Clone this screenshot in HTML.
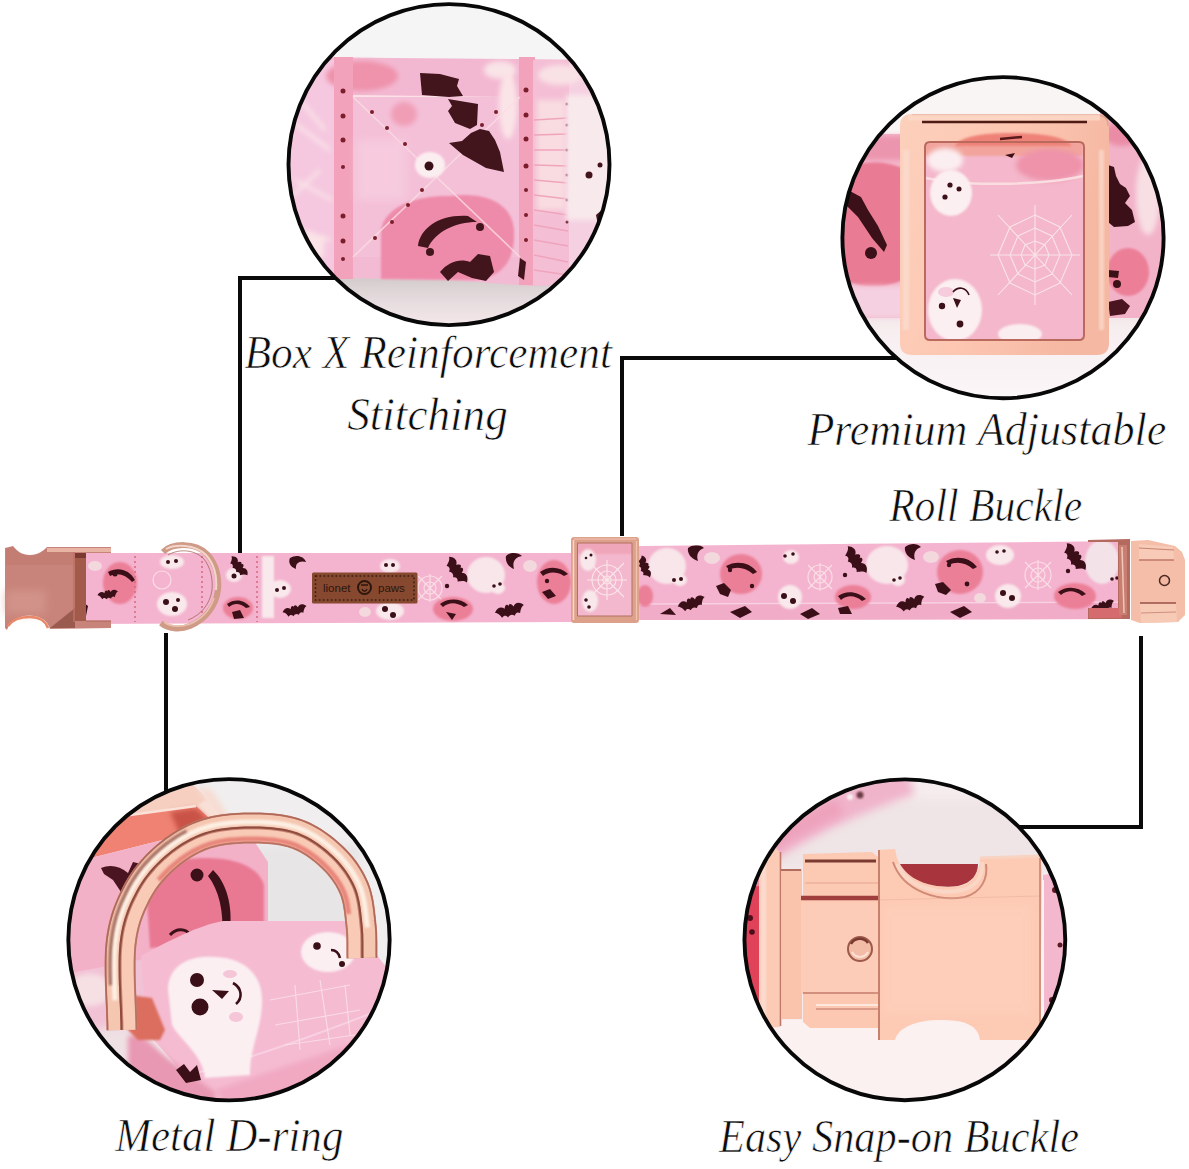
<!DOCTYPE html>
<html><head><meta charset="utf-8"><title>Collar</title>
<style>
html,body{margin:0;padding:0;background:#fff;width:1189px;height:1169px;overflow:hidden}
svg{display:block}
.t{font-family:"Liberation Serif",serif;font-style:italic;fill:#0c0c0c;font-size:46px;stroke:#fff;stroke-width:0.7px}
</style></head><body>
<svg width="1189" height="1169" viewBox="0 0 1189 1169">
<defs>
<linearGradient id="gShadow1" x1="0" y1="0" x2="0" y2="1"><stop offset="0" stop-color="#d2caca"/><stop offset="0.35" stop-color="#e2d8da"/><stop offset="1" stop-color="#f8eaee"/></linearGradient>
<filter id="blur1" x="-20%" y="-20%" width="140%" height="140%"><feGaussianBlur stdDeviation="1"/></filter>
<filter id="blur2" x="-30%" y="-30%" width="160%" height="160%"><feGaussianBlur stdDeviation="2.5"/></filter>
<filter id="blur4" x="-30%" y="-30%" width="160%" height="160%"><feGaussianBlur stdDeviation="4"/></filter>
<linearGradient id="gBot2" x1="0" y1="0" x2="0" y2="1"><stop offset="0" stop-color="#ecdfe2"/><stop offset="0.3" stop-color="#f7eef0"/><stop offset="1" stop-color="#fbf6f7"/></linearGradient>
<linearGradient id="gGold2" x1="0" y1="0" x2="1" y2="0.3"><stop offset="0" stop-color="#fcd0bc"/><stop offset="0.5" stop-color="#fdc7b2"/><stop offset="1" stop-color="#f5b8a2"/></linearGradient>
<path id="bat" d="M-13,-2 C-10,-6 -6,-6 -4,-3 C-3,-6 -1,-7 0,-4.5 C1,-7 3,-6 4,-3 C6,-6 10,-6 13,-2 C10,-1 9,2 8,4 C6,2 4,3 3,5 C1,3 -1,3 -3,5 C-4,3 -6,2 -8,4 C-9,2 -10,-1 -13,-2 Z"/>
<clipPath id="c1"><circle cx="449" cy="164.6" r="160.5"/></clipPath>
<clipPath id="c2"><circle cx="1003" cy="237.7" r="160.6"/></clipPath>
<clipPath id="c3"><circle cx="229" cy="939.75" r="160.65"/></clipPath>
<clipPath id="c4"><circle cx="904.85" cy="939.8" r="160.4"/></clipPath>
</defs>
<rect width="1189" height="1169" fill="#fff"/>

<!-- connector lines -->
<g stroke="#0a0a0a" stroke-width="4" fill="none">
<polyline points="240,556 240,278 345,278"/>
<polyline points="622,536 622,358 905,358"/>
<line x1="166" y1="633" x2="166" y2="795"/>
<polyline points="1141,636 1141,827 1005,827"/>
</g>

<!-- circle 1 -->
<g clip-path="url(#c1)">
<rect x="280" y="0" width="340" height="330" fill="#f6f5f5"/>
<rect x="280" y="276" width="340" height="54" fill="url(#gShadow1)"/>
<path d="M280,57 L620,60 L620,284 L530,286 L450,280 L280,277 Z" fill="#f3bad3"/>
<!-- left light area -->
<rect x="280" y="60" width="55" height="218" fill="#f5c8df"/>
<g filter="url(#blur2)">
<path d="M290,120 L330,150 M295,180 L332,200 M300,230 L330,240 M288,200 L320,170 M300,100 L325,130" stroke="#fbe6ea" stroke-width="3" fill="none"/>
<rect x="284" y="235" width="40" height="22" fill="#fbe3e7"/>
</g>
<!-- top strip -->
<rect x="335" y="59" width="185" height="37" fill="#f3b8d1"/>
<ellipse cx="362" cy="76" rx="36" ry="15" fill="#ef92ab" filter="url(#blur2)"/>
<ellipse cx="500" cy="70" rx="16" ry="9" fill="#f9e4e8" filter="url(#blur2)"/>
<line x1="353" y1="96" x2="520" y2="98" stroke="#fbe2e6" stroke-width="2"/>
<!-- inner box -->
<rect x="353" y="97" width="167" height="160" fill="#f4c0d8"/>
<ellipse cx="404" cy="114" rx="13" ry="12" fill="#f09eb6" filter="url(#blur2)"/>
<ellipse cx="508" cy="105" rx="9" ry="34" fill="#fbe4e8" filter="url(#blur2)"/>
<!-- pumpkin blob -->
<path d="M381,230 C385,205 420,195 450,196 C480,192 512,200 514,230 C516,262 500,280 470,280 L381,279 Z" fill="#ee8baa" filter="url(#blur1)"/>
<!-- left stitch column -->
<rect x="334" y="57" width="19" height="222" fill="#f2a3bb"/>
<!-- right stitch column -->
<rect x="519" y="57" width="16" height="228" fill="#f2a3bb"/>
<!-- fringe -->
<rect x="533" y="60" width="36" height="225" fill="#f4bfd5"/>
<rect x="537" y="100" width="28" height="110" fill="#f9dce1" filter="url(#blur2)"/>
<g stroke="#f0a4bc" stroke-width="1.6">
<line x1="534" y1="120" x2="568" y2="118"/><line x1="534" y1="135" x2="568" y2="134"/><line x1="534" y1="150" x2="568" y2="150"/>
<line x1="534" y1="165" x2="568" y2="166"/><line x1="534" y1="180" x2="568" y2="183"/><line x1="534" y1="195" x2="568" y2="199"/>
<line x1="534" y1="210" x2="568" y2="215"/><line x1="534" y1="225" x2="568" y2="231"/><line x1="534" y1="240" x2="568" y2="246"/>
<line x1="534" y1="255" x2="568" y2="262"/><line x1="534" y1="270" x2="568" y2="275"/>
</g>
<g fill="#6a2030"><circle cx="567" cy="104" r="1.5"/><circle cx="567" cy="125" r="1.5"/><circle cx="567" cy="150" r="1.5"/><circle cx="567" cy="175" r="1.5"/><circle cx="567" cy="200" r="1.5"/><circle cx="567" cy="222" r="1.5"/></g>
<!-- right light area -->
<path d="M569,60 L620,62 L620,284 L569,284 Z" fill="#f5d0e1"/>
<path d="M566,95 L612,95 L612,220 L566,220 Z" fill="#f8e9ec" filter="url(#blur2)"/>
<ellipse cx="560" cy="75" rx="22" ry="10" fill="#f9e2e6" filter="url(#blur2)"/>
<!-- X stitches -->
<g stroke="#fadde2" stroke-width="1.6" fill="none" opacity="0.8">
<path d="M353,97 L520,257"/><path d="M520,97 L353,257"/>
</g>
<rect x="356" y="140" width="50" height="60" fill="#f8d2e2" opacity="0.6" filter="url(#blur4)"/>
<g fill="#7a1e2c">
<circle cx="343" cy="91" r="2.5"/><circle cx="343" cy="116" r="2.5"/><circle cx="343" cy="140" r="2.5"/><circle cx="343" cy="167" r="2"/><circle cx="343" cy="216" r="2.5"/><circle cx="343" cy="241" r="2.5"/><circle cx="343" cy="259" r="2"/>
<circle cx="526" cy="90" r="2.5"/><circle cx="526" cy="115" r="2.5"/><circle cx="526" cy="139" r="2.5"/><circle cx="526" cy="166" r="2.5"/><circle cx="526" cy="190" r="2"/><circle cx="526" cy="215" r="2"/><circle cx="526" cy="240" r="2"/>
<circle cx="372" cy="112" r="2"/><circle cx="387" cy="128" r="2"/><circle cx="405" cy="144" r="2"/><circle cx="496" cy="112" r="2"/><circle cx="482" cy="125" r="2"/>
<circle cx="422" cy="190" r="2"/><circle cx="408" cy="205" r="2"/><circle cx="392" cy="222" r="2"/><circle cx="375" cy="238" r="2"/>
</g>
<!-- ghost -->
<ellipse cx="430" cy="165" rx="15" ry="13" fill="#fbeef0" filter="url(#blur1)"/>
<circle cx="429" cy="166" r="4.5" fill="#3a1018"/>
<!-- bat -->
<g fill="#42141c">
<path d="M420,73 L440,74 L459,79 L457,86 L463,96 L449,97 L422,95 Z"/>
<path d="M448,99 L478,104 L477,125 L470,129 L455,123 L448,111 L452,106 Z"/>
<path d="M471,133 L480,129 L489,131 L495,140 L500,152 L504,172 L486,168 L463,155 L449,143 L462,141 Z"/>
<!-- crescent -->
<path d="M418,246 C420,228 440,214 468,216 L477,222 C455,222 435,232 428,248 Z"/>
<circle cx="430" cy="252" r="4"/>
<circle cx="480" cy="227" r="4"/>
<!-- bottom dark -->
<path d="M440,272 C448,262 460,258 470,262 L478,254 L490,256 L494,272 L486,281 L472,278 L458,272 L448,281 Z"/>
<path d="M520,258 L526,262 L524,280 L518,276 Z"/>
<circle cx="589" cy="175" r="3.5"/><circle cx="600" cy="165" r="2.5"/>
<path d="M596,215 L604,208 L610,230 L600,235 Z"/>
</g>
</g>
<circle cx="449" cy="164.6" r="160.5" fill="none" stroke="#080808" stroke-width="3.9"/>

<!-- circle 2 -->
<g clip-path="url(#c2)">
<rect x="840" y="70" width="330" height="330" fill="#f9f5f5"/>
<rect x="840" y="300" width="330" height="100" fill="url(#gBot2)"/>
<!-- left band -->
<path d="M840,134 L905,134 L905,318 L840,318 Z" fill="#f3b6cb"/>
<path d="M840,136 L905,136 L905,160 L840,160 Z" fill="#ec95ae" filter="url(#blur2)"/>
<path d="M842,172 C855,160 885,160 902,168 L902,280 C885,290 855,288 842,278 Z" fill="#e97b94" filter="url(#blur1)"/>
<path d="M848,190 L861,197 L868,210 L878,226 L887,245 L884,252 L872,238 L858,217 L846,205 Z" fill="#3c1018"/>
<circle cx="871" cy="253" r="6" fill="#3c1018"/>
<rect x="840" y="286" width="65" height="32" fill="#f5d0e0" filter="url(#blur2)"/>
<!-- right band -->
<path d="M1100,106 L1170,104 L1170,318 L1100,318 Z" fill="#f2b3c9"/>
<ellipse cx="1122" cy="134" rx="18" ry="12" fill="#ea8ca6" filter="url(#blur2)"/>
<path d="M1108,165 L1114,167 L1116,176 L1120,184 L1126,188 L1130,196 L1125,203 L1132,210 L1135,222 L1128,226 L1114,227 L1108,222 Z" fill="#3c1018"/>
<ellipse cx="1128" cy="272" rx="21" ry="24" fill="#ec7f97" filter="url(#blur1)"/>
<circle cx="1117" cy="284" r="4" fill="#3c1018"/>
<path d="M1108,270 L1119,271 L1118,278 L1108,277 Z" fill="#3c1018"/>
<path d="M1108,302 L1122,299 L1130,306 L1125,314 L1110,316 Z" fill="#4a1520"/>
<ellipse cx="1148" cy="195" rx="12" ry="40" fill="#f8dfe4" filter="url(#blur2)"/>
<!-- roll inside frame -->
<rect x="922" y="140" width="164" height="202" fill="#f4b7cb"/>
<rect x="925" y="142" width="158" height="14" fill="#f2a49c" filter="url(#blur1)"/>
<ellipse cx="945" cy="160" rx="18" ry="12" fill="#fbeef1" filter="url(#blur2)"/>
<ellipse cx="1050" cy="165" rx="34" ry="16" fill="#ee93aa" filter="url(#blur2)"/>
<path d="M1005,155 L1015,153 L1012,158 Z" fill="#3c1018"/>
<path d="M926,178 C960,186 1040,186 1083,176" stroke="#f9dde0" stroke-width="2.5" fill="none"/>
<ellipse cx="951" cy="193" rx="21" ry="23" fill="#fbeff1" filter="url(#blur1)"/>
<circle cx="950" cy="185" r="2.6" fill="#3c1018"/><circle cx="959" cy="189" r="2.5" fill="#3c1018"/><circle cx="945" cy="197" r="2.6" fill="#3c1018"/>
<ellipse cx="955" cy="310" rx="27" ry="31" fill="#fbeff1" filter="url(#blur1)"/>
<ellipse cx="946" cy="292" rx="8" ry="5" fill="#f6cbdc"/>
<circle cx="942" cy="306" r="3.2" fill="#3c1018"/><path d="M953,298 L961,300 L957,308 Z" fill="#3c1018"/><circle cx="960" cy="324" r="3.4" fill="#3c1018"/>
<path d="M953,292 C958,286 966,287 969,295" stroke="#3c1018" stroke-width="1.6" fill="none"/>
<ellipse cx="1020" cy="334" rx="22" ry="10" fill="#fbeef0" filter="url(#blur1)"/>
<g stroke="#fae6ea" stroke-width="1.1" fill="none" opacity="0.95">
<path d="M1035,205 L1035,305 M990,255 L1080,255 M998,215 L1072,295 M1072,215 L998,295"/>
<path d="M1035,215 L1060,227 L1072,255 L1060,283 L1035,295 L1010,283 L998,255 L1010,227 Z"/>
<path d="M1035,228 L1052,236 L1060,255 L1052,274 L1035,282 L1018,274 L1010,255 L1018,236 Z"/>
<path d="M1035,241 L1045,245 L1049,255 L1045,265 L1035,269 L1025,265 L1021,255 L1025,245 Z"/>
</g>
<!-- frame -->
<path fill-rule="evenodd" fill="url(#gGold2)" d="M912,114 L1097,114 Q1109,114 1109,126 L1109,343 Q1109,355 1097,355 L912,355 Q900,355 900,343 L900,126 Q900,114 912,114 Z M930,142 L1079,142 Q1084,142 1084,147 L1084,335 Q1084,340 1079,340 L930,340 Q925,340 925,335 L925,147 Q925,142 930,142 Z"/>
<path d="M912,115 L1097,115 Q1108,115 1108,126" stroke="#e0a494" stroke-width="1.5" fill="none"/>
<rect x="908" y="114.5" width="192" height="6" fill="#fbd8c8" opacity="0.8"/>
<path d="M922,122 L1087,122" stroke="#4e1c14" stroke-width="2.6"/>
<path d="M955,146 C960,136 985,133 1010,133 C1040,133 1065,136 1072,146 Z" fill="#ef8278" filter="url(#blur1)"/>
<path d="M1000,139 L1022,137" stroke="#5a1a1a" stroke-width="2.5"/>
<path d="M930,142 L1079,142 Q1084,142 1084,147 L1084,335 Q1084,340 1079,340 L930,340 Q925,340 925,335 L925,147 Q925,142 930,142 Z" fill="none" stroke="#b96a5c" stroke-width="2"/>
<rect x="903" y="150" width="6" height="180" fill="#fbd9ca" filter="url(#blur1)"/>
<rect x="1099" y="150" width="5" height="180" fill="#f9d2c2" filter="url(#blur1)"/>
</g>
<circle cx="1003" cy="237.7" r="160.6" fill="none" stroke="#080808" stroke-width="3.9"/>

<!-- circle 3 -->
<g clip-path="url(#c3)">
<rect x="60" y="770" width="340" height="340" fill="#f0eeee"/>
<rect x="240" y="845" width="120" height="90" fill="#e7e5e5" filter="url(#blur4)"/>
<!-- slider top-left -->
<path d="M60,800 L188,780 L204,795 L222,826 L196,806 L130,815 L60,842 Z" fill="#f6cfc0"/>
<path d="M196,786 L212,790 L232,822 L222,826 Z" fill="#f7ddd3" filter="url(#blur2)"/>
<path d="M196,806 L206,800 L226,824 L220,828 Z" fill="#f9e0d6" filter="url(#blur1)"/>
<path d="M60,842 L130,815 L196,806 L218,826 L95,857 L60,866 Z" fill="#ef8272"/>
<path d="M170,812 L196,808 L214,826 L180,835 Z" fill="#c95246" filter="url(#blur2)"/>
<path d="M130,815 L196,806" stroke="#fbe2d8" stroke-width="2.5"/>
<!-- upper pink fabric band (left part) -->
<path d="M60,866 L95,857 L218,826 L250,835 L268,862 L268,935 L150,960 L60,975 Z" fill="#f3b1c8"/>
<!-- pumpkin -->
<path d="M146,885 C150,866 178,858 205,858 C235,858 258,866 264,885 L264,935 C240,942 190,945 150,948 Z" fill="#e97993" filter="url(#blur1)"/>
<circle cx="197" cy="875" r="6.5" fill="#3c1018"/>
<path d="M213,870 C226,882 233,905 230,930 L222,936 C224,912 219,890 208,876 Z" fill="#3c1018"/>
<path d="M170,935 C176,928 186,928 190,935" stroke="#3c1018" stroke-width="3" fill="none"/>
<!-- bat left -->
<path d="M101,868 C110,864 120,866 128,873 L133,862 L141,864 L140,876 L135,890 L127,902 L121,892 L113,880 L104,874 Z" fill="#4a1520"/>
<!-- left bottom light patches -->
<path d="M60,975 L150,958 L148,1035 L110,1060 L60,1060 Z" fill="#f1c2d5"/>
<ellipse cx="90" cy="990" rx="22" ry="16" fill="#f6e0e4" filter="url(#blur2)"/>
<ellipse cx="118" cy="1048" rx="40" ry="22" fill="#efe0e4" filter="url(#blur4)"/>
<!-- strap -->
<path d="M141,956 C170,940 200,925 223,921 L351,921 L392,975 L392,1110 L215,1110 L147,1032 Z" fill="#f5bbd1"/>
<path d="M215,1090 L392,1030 L392,1110 L230,1110 Z" fill="#f1a9c2" filter="url(#blur2)"/>
<path d="M200,1072 C260,1055 330,1030 392,1005" stroke="#f8d0e2" stroke-width="2" fill="none"/>
<!-- loop inner -->
<path d="M128,1036 L140,1034 L170,1060 L215,1092 L215,1110 L150,1110 L128,1070 Z" fill="#e898b2" filter="url(#blur2)"/>
<path d="M130,995 L152,998 L165,1030 L160,1040 L138,1040 L128,1030 Z" fill="#dc6e5e" filter="url(#blur1)"/>
<!-- ghost 1 -->
<path d="M168,990 C168,965 190,955 215,957 C245,958 262,975 262,1000 C262,1030 250,1045 250,1075 L205,1078 C203,1055 180,1040 172,1025 Z" fill="#fbeff2" filter="url(#blur1)"/>
<ellipse cx="230" cy="974" rx="7" ry="4" fill="#f5c6d8"/>
<ellipse cx="236" cy="1017" rx="7" ry="5" fill="#f5c6d8"/>
<circle cx="197" cy="980" r="7" fill="#3a0f18"/>
<circle cx="200" cy="1007" r="8.5" fill="#3a0f18"/>
<path d="M212,990 L229,991 L222,999 Z" fill="#3a0f18"/>
<path d="M233,983 C242,988 243,998 236,1004" stroke="#3a0f18" stroke-width="2.6" fill="none"/>
<!-- ghost 2 -->
<ellipse cx="328" cy="952" rx="27" ry="20" fill="#fbeff2" filter="url(#blur1)"/>
<circle cx="317" cy="946" r="3.8" fill="#3a0f18"/>
<path d="M331,950 C336,950 339,954 340,958" stroke="#3a0f18" stroke-width="2.5" fill="none"/><circle cx="342" cy="964" r="3" fill="#3a0f18"/>
<!-- web -->
<g stroke="#fbe8ec" stroke-width="1.2" fill="none" opacity="0.7">
<path d="M270,1000 L350,985 M275,1025 L360,1010 M285,1045 L355,1035 M295,985 L300,1050 M320,980 L330,1045 M345,985 L350,1035"/>
</g>
<!-- bottom bats -->
<path d="M176,1070 L184,1064 L190,1072 L197,1065 L201,1080 L186,1083 Z" fill="#3a0f18"/>
<!-- D-ring -->
<path d="M122.0,1030.0 L121.9,1022.7 L121.6,1015.3 L121.4,1007.7 L121.0,1000.0 L120.7,992.4 L120.4,984.8 L120.2,977.4 L120.1,970.1 L120.1,963.0 L120.2,956.3 L120.5,949.9 L121.0,944.0 L121.7,938.5 L122.5,933.3 L123.5,928.4 L124.6,923.9 L125.8,919.5 L127.1,915.4 L128.6,911.4 L130.1,907.6 L131.7,903.9 L133.4,900.2 L135.2,896.6 L137.0,893.0 L138.9,889.4 L141.0,886.0 L143.1,882.6 L145.3,879.4 L147.7,876.3 L150.1,873.2 L152.5,870.3 L155.1,867.5 L157.7,864.7 L160.4,862.1 L163.2,859.5 L166.0,857.0 L168.9,854.6 L171.8,852.2 L174.9,849.9 L178.0,847.7 L181.1,845.6 L184.4,843.6 L187.7,841.7 L191.0,839.9 L194.5,838.2 L197.9,836.7 L201.4,835.3 L205.0,834.0 L208.6,832.9 L212.4,831.9 L216.2,831.0 L220.1,830.3 L224.1,829.7 L228.1,829.2 L232.2,828.8 L236.2,828.5 L240.2,828.3 L244.2,828.1 L248.1,828.0 L252.0,828.0 L255.9,828.0 L259.7,828.1 L263.6,828.3 L267.5,828.5 L271.4,828.8 L275.2,829.2 L279.1,829.7 L282.8,830.3 L286.5,831.0 L290.1,831.9 L293.6,832.9 L297.0,834.0 L300.3,835.3 L303.6,836.8 L306.8,838.4 L309.9,840.1 L313.0,842.0 L315.9,843.9 L318.8,846.0 L321.7,848.1 L324.4,850.3 L327.0,852.5 L329.6,854.7 L332.0,857.0 L334.3,859.3 L336.6,861.6 L338.8,864.0 L340.9,866.5 L342.8,869.0 L344.8,871.6 L346.6,874.3 L348.3,876.9 L349.9,879.6 L351.4,882.4 L352.7,885.2 L354.0,888.0 L355.1,890.9 L356.1,893.9 L356.9,896.9 L357.7,900.0 L358.3,903.2 L358.8,906.4 L359.3,909.6 L359.7,912.7 L360.0,915.9 L360.4,919.0 L360.7,922.0 L361.0,925.0 L361.3,927.9 L361.5,930.7 L361.7,933.5 L361.8,936.3 L361.8,939.0 L361.9,941.8 L361.9,944.5 L361.9,947.1 L361.9,949.8 L361.9,952.5 L361.9,955.3 L362.0,958.0" stroke="#c98474" stroke-width="31" fill="none"/>
<path d="M114.5,1030.1 L114.4,1022.9 L114.1,1015.5 L113.9,1008.0 L113.5,1000.3 L113.2,992.7 L112.9,985.1 L112.7,977.5 L112.6,970.2 L112.6,963.0 L112.7,956.1 L113.0,949.4 L113.5,943.2 L114.3,937.4 L115.2,932.0 L116.2,926.8 L117.3,922.0 L118.6,917.4 L120.0,913.0 L121.5,908.8 L123.1,904.7 L124.8,900.8 L126.6,897.0 L128.5,893.3 L130.4,889.5 L132.4,885.7 L134.6,882.1 L136.9,878.5 L139.2,875.0 L141.7,871.7 L144.3,868.5 L146.9,865.4 L149.6,862.4 L152.4,859.5 L155.2,856.7 L158.1,854.0 L161.1,851.3 L164.1,848.8 L167.2,846.3 L170.4,843.9 L173.7,841.6 L177.1,839.3 L180.5,837.2 L184.0,835.2 L187.6,833.3 L191.3,831.5 L195.0,829.8 L198.8,828.3 L202.6,826.9 L206.6,825.7 L210.6,824.6 L214.7,823.7 L218.9,822.9 L223.1,822.3 L227.3,821.7 L231.5,821.3 L235.7,821.0 L239.9,820.8 L244.0,820.6 L248.0,820.5 L252.0,820.5 L256.0,820.5 L260.0,820.6 L264.0,820.8 L268.0,821.0 L272.1,821.3 L276.1,821.7 L280.1,822.3 L284.1,822.9 L288.1,823.7 L292.0,824.6 L295.8,825.7 L299.6,826.9 L303.2,828.4 L306.8,830.0 L310.3,831.7 L313.7,833.6 L317.0,835.6 L320.2,837.7 L323.3,839.9 L326.3,842.2 L329.2,844.5 L331.9,846.8 L334.6,849.2 L337.2,851.6 L339.7,854.0 L342.1,856.5 L344.4,859.1 L346.7,861.8 L348.8,864.5 L350.9,867.3 L352.8,870.1 L354.7,873.0 L356.4,875.9 L358.0,878.9 L359.5,882.0 L360.9,885.1 L362.2,888.4 L363.3,891.7 L364.2,895.1 L365.0,898.5 L365.7,901.9 L366.2,905.2 L366.7,908.6 L367.1,911.9 L367.5,915.1 L367.8,918.2 L368.1,921.2 L368.5,924.2 L368.8,927.2 L369.0,930.2 L369.2,933.2 L369.3,936.1 L369.3,938.9 L369.4,941.7 L369.4,944.4 L369.4,947.1 L369.4,949.8 L369.4,952.5 L369.4,955.1 L369.5,957.8" stroke="#f5c6b0" stroke-width="12" fill="none"/>
<path d="M129.5,1029.9 L129.4,1022.5 L129.1,1015.0 L128.8,1007.4 L128.5,999.7 L128.2,992.1 L127.9,984.6 L127.7,977.2 L127.6,970.0 L127.6,963.1 L127.7,956.6 L128.0,950.4 L128.5,944.8 L129.1,939.5 L129.9,934.6 L130.8,930.0 L131.9,925.7 L133.0,921.7 L134.2,917.8 L135.6,914.1 L137.0,910.5 L138.5,906.9 L140.2,903.5 L141.9,900.0 L143.6,896.5 L145.5,893.1 L147.4,889.9 L149.3,886.8 L151.4,883.8 L153.6,880.8 L155.9,878.0 L158.2,875.3 L160.6,872.6 L163.1,870.0 L165.6,867.5 L168.2,865.0 L170.9,862.7 L173.6,860.4 L176.4,858.1 L179.3,856.0 L182.2,853.9 L185.2,851.9 L188.2,850.1 L191.3,848.3 L194.5,846.6 L197.6,845.0 L200.9,843.6 L204.1,842.3 L207.4,841.1 L210.7,840.1 L214.2,839.2 L217.7,838.4 L221.4,837.7 L225.2,837.1 L229.0,836.6 L232.8,836.3 L236.7,836.0 L240.6,835.7 L244.4,835.6 L248.2,835.5 L252.0,835.5 L255.7,835.5 L259.5,835.6 L263.3,835.7 L267.0,836.0 L270.7,836.3 L274.4,836.6 L278.0,837.1 L281.5,837.7 L284.9,838.4 L288.2,839.1 L291.4,840.0 L294.4,841.1 L297.4,842.2 L300.3,843.5 L303.2,845.0 L306.1,846.6 L308.9,848.3 L311.7,850.1 L314.4,852.1 L317.1,854.0 L319.6,856.1 L322.1,858.2 L324.5,860.3 L326.8,862.4 L329.0,864.6 L331.1,866.7 L333.1,869.0 L335.0,871.3 L336.9,873.6 L338.6,876.0 L340.3,878.4 L341.9,880.8 L343.3,883.3 L344.7,885.8 L346.0,888.4 L347.1,890.9 L348.1,893.4 L348.9,896.0 L349.7,898.8 L350.3,901.6 L350.9,904.5 L351.4,907.5 L351.8,910.6 L352.2,913.6 L352.6,916.7 L352.9,919.8 L353.2,922.8 L353.5,925.8 L353.8,928.6 L354.0,931.2 L354.2,933.9 L354.3,936.5 L354.3,939.2 L354.4,941.8 L354.4,944.5 L354.4,947.2 L354.4,949.9 L354.4,952.6 L354.4,955.4 L354.5,958.2" stroke="#f9cbb6" stroke-width="12" fill="none"/>
<path d="M115.0,1000.3 L114.7,992.6 L114.4,985.0 L114.2,977.5 L114.1,970.1 L114.1,963.0 L114.2,956.1 L114.5,949.5 L115.0,943.4 L115.8,937.6 L116.6,932.2 L117.6,927.2 L118.8,922.4 L120.1,917.8 L121.4,913.4 L122.9,909.3 L124.5,905.3 L126.2,901.4 L128.0,897.6 L129.8,893.9 L131.7,890.2 L133.7,886.5 L135.9,882.8 L138.1,879.3 L140.5,875.9 L142.9,872.6 L145.4,869.4 L148.0,866.4 L150.7,863.4 L153.5,860.5 L156.3,857.7 L159.1,855.1 L162.1,852.5 L165.1,849.9 L168.2,847.5 L171.3,845.1 L174.6,842.8 L177.9,840.6 L181.3,838.5 L184.8,836.5 L188.3,834.6 L191.9,832.8 L195.6,831.2 L199.3,829.7 L203.1,828.3 L207.0,827.1 L211.0,826.0 L215.0,825.1 L219.1,824.4 L223.3,823.7 L227.5,823.2 L231.6,822.8 L235.8,822.5 L239.9,822.3 L244.0,822.1 L248.0,822.0 L252.0,822.0 L255.9,822.0 L259.9,822.1 L263.9,822.3 L267.9,822.5 L271.9,822.8 L275.9,823.2 L279.9,823.8 L283.9,824.4 L287.8,825.2 L291.6,826.1 L295.4,827.1 L299.0,828.4 L302.6,829.8 L306.1,831.3 L309.6,833.1 L312.9,834.9 L316.2,836.9 L319.3,839.0 L322.4,841.1 L325.3,843.4 L328.2,845.6 L331.0,848.0 L333.6,850.3 L336.1,852.7 L338.6,855.1 L341.0,857.5 L343.3,860.1 L345.5,862.7 L347.6,865.4 L349.6,868.1 L351.6,870.9 L353.4,873.8 L355.1,876.7 L356.7,879.6 L358.2,882.6 L359.5,885.7 L360.8,888.9 L361.8,892.1 L362.8,895.4 L363.5,898.8 L364.2,902.1 L364.7,905.5 L365.2,908.8 L365.6,912.0 L366.0,915.2 L366.3,918.4 L366.6,921.4 L367.0,924.4 L367.3,927.4" stroke="#fdf0e4" stroke-width="5" fill="none" filter="url(#blur1)"/>
<path d="M158.6,880.2 L160.8,877.6 L163.2,875.0 L165.6,872.5 L168.1,870.0 L170.6,867.6 L173.2,865.3 L175.9,863.1 L178.6,860.9 L181.3,858.8 L184.2,856.8 L187.1,854.9 L190.0,853.1 L193.0,851.3 L196.1,849.7 L199.1,848.2 L202.2,846.8 L205.4,845.6 L208.5,844.4 L211.7,843.4 L215.0,842.6 L218.4,841.8 L222.0,841.1 L225.6,840.6 L229.3,840.1 L233.1,839.7 L236.9,839.5 L240.7,839.2 L244.5,839.1 L248.3,839.0 L252.0,839.0 L255.7,839.0 L259.4,839.1 L263.1,839.2 L266.8,839.5 L270.4,839.7 L274.0,840.1 L277.5,840.6 L280.9,841.1 L284.2,841.8 L287.3,842.5 L290.4,843.4 L293.3,844.3 L296.0,845.4 L298.8,846.7 L301.6,848.1 L304.4,849.6 L307.1,851.3 L309.7,853.0 L312.4,854.9 L314.9,856.8 L317.4,858.8 L319.9,860.8 L322.2,862.9 L324.4,865.0 L326.5,867.0 L328.5,869.1 L330.5,871.3 L332.3,873.5 L334.1,875.7 L335.8,878.0 L337.4,880.3 L338.9,882.7 L340.3,885.1 L341.6,887.5 L342.8,889.9 L343.9,892.3 L344.8,894.6 L345.6,897.0 L346.3,899.6 L346.9,902.3 L347.5,905.2 L347.9,908.1 L348.4,911.0 L348.7,914.0" stroke="#e8857a" stroke-width="5" fill="none" filter="url(#blur1)"/>
<path d="M110.4,985.2 L110.2,977.6 L110.1,970.2 L110.1,963.0 L110.2,956.0 L110.5,949.3 L111.1,943.0 L111.8,937.1 L112.7,931.5 L113.7,926.3 L114.9,921.4 L116.2,916.6 L117.7,912.2 L119.2,907.9 L120.8,903.8 L122.6,899.8 L124.4,895.9 L126.2,892.1 L128.1,888.3 L130.2,884.5 L132.4,880.7 L134.8,877.1 L137.2,873.6 L139.7,870.2 L142.3,866.9 L145.0,863.7 L147.8,860.7 L150.6,857.7 L153.5,854.9 L156.5,852.1 L159.5,849.4 L162.5,846.8 L165.7,844.3 L169.0,841.9 L172.3,839.5 L175.7,837.2 L179.2,835.0 L182.8,833.0 L186.5,831.0" stroke="#7a4038" stroke-width="3" fill="none" opacity="0.7" filter="url(#blur1)"/>
<path d="M121.5,1030.0 L121.4,1022.7 L121.1,1015.3 L120.9,1007.7 L120.5,1000.1 L120.2,992.4 L119.9,984.8 L119.7,977.4 L119.6,970.1 L119.6,963.0 L119.7,956.3 L120.0,949.9 L120.5,943.9 L121.2,938.4 L122.0,933.2 L123.0,928.3 L124.1,923.7 L125.3,919.4 L126.7,915.2 L128.1,911.2 L129.6,907.4 L131.2,903.7 L132.9,900.0 L134.7,896.4 L136.6,892.8 L138.5,889.2 L140.5,885.7 L142.7,882.4 L144.9,879.1 L147.3,876.0 L149.7,872.9 L152.2,870.0 L154.7,867.1 L157.4,864.4 L160.1,861.7 L162.9,859.1 L165.7,856.6 L168.6,854.2 L171.5,851.8 L174.6,849.5 L177.7,847.3 L180.9,845.2 L184.1,843.2 L187.4,841.3 L190.8,839.5 L194.2,837.8 L197.7,836.2 L201.3,834.8 L204.8,833.5 L208.5,832.4 L212.3,831.4 L216.1,830.5 L220.1,829.8 L224.0,829.2 L228.1,828.7 L232.1,828.3 L236.2,828.0 L240.2,827.8 L244.2,827.6 L248.1,827.5 L252.0,827.5 L255.9,827.5 L259.7,827.6 L263.6,827.8 L267.6,828.0 L271.4,828.3 L275.3,828.7 L279.1,829.2 L282.9,829.8 L286.6,830.5 L290.2,831.4 L293.8,832.4 L297.2,833.5 L300.5,834.8 L303.8,836.3 L307.0,837.9 L310.1,839.7 L313.2,841.6 L316.2,843.5 L319.1,845.6 L322.0,847.7 L324.7,849.9 L327.4,852.1 L329.9,854.4 L332.3,856.6 L334.7,858.9 L337.0,861.3 L339.1,863.7 L341.2,866.2 L343.2,868.7 L345.2,871.3 L347.0,874.0 L348.7,876.7 L350.3,879.4 L351.8,882.2 L353.2,885.0 L354.5,887.8 L355.6,890.7 L356.6,893.7 L357.4,896.8 L358.2,899.9 L358.8,903.1 L359.3,906.3 L359.8,909.5 L360.2,912.7 L360.5,915.8 L360.9,918.9 L361.2,922.0 L361.5,924.9 L361.8,927.8 L362.0,930.7 L362.2,933.5 L362.3,936.3 L362.3,939.0 L362.4,941.7 L362.4,944.5 L362.4,947.1 L362.4,949.8 L362.4,952.5 L362.4,955.3 L362.5,958.0" stroke="#8e4c3e" stroke-width="2" fill="none"/>
<path d="M107.5,1030.3 L107.4,1023.1 L107.1,1015.8 L106.9,1008.3 L106.5,1000.6 L106.2,993.0 L105.9,985.3 L105.7,977.7 L105.6,970.2 L105.6,962.9 L105.7,955.8 L106.0,949.0 L106.6,942.5 L107.3,936.4 L108.3,930.7 L109.3,925.3 L110.6,920.2 L111.9,915.4 L113.4,910.7 L115.0,906.3 L116.7,902.0 L118.5,897.9 L120.3,894.0 L122.2,890.1 L124.2,886.3 L126.3,882.3 L128.6,878.4 L131.0,874.6 L133.5,871.0 L136.2,867.4 L138.9,864.0 L141.6,860.8 L144.5,857.6 L147.4,854.6 L150.4,851.6 L153.4,848.8 L156.5,846.0 L159.7,843.4 L162.9,840.8 L166.3,838.2 L169.8,835.8 L173.3,833.4 L176.9,831.2 L180.6,829.0 L184.4,827.0 L188.3,825.1 L192.2,823.4 L196.3,821.7 L200.4,820.3 L204.6,818.9 L209.0,817.8 L213.3,816.8 L217.7,816.0 L222.1,815.3 L226.5,814.8 L230.9,814.3 L235.2,814.0 L239.5,813.8 L243.8,813.6 L247.9,813.5 L252.0,813.5 L256.1,813.5 L260.2,813.6 L264.3,813.8 L268.5,814.0 L272.7,814.3 L276.9,814.8 L281.2,815.3 L285.4,816.0 L289.6,816.9 L293.7,817.8 L297.9,819.0 L301.9,820.4 L305.9,821.9 L309.8,823.7 L313.5,825.6 L317.2,827.6 L320.7,829.7 L324.1,832.0 L327.4,834.3 L330.5,836.6 L333.6,839.1 L336.5,841.5 L339.3,844.0 L342.0,846.5 L344.6,849.1 L347.2,851.8 L349.7,854.5 L352.1,857.3 L354.4,860.2 L356.6,863.2 L358.6,866.2 L360.6,869.3 L362.5,872.5 L364.2,875.7 L365.8,879.0 L367.4,882.4 L368.8,886.0 L370.0,889.7 L371.0,893.4 L371.8,897.0 L372.6,900.6 L373.1,904.2 L373.6,907.6 L374.1,911.0 L374.4,914.3 L374.8,917.5 L375.1,920.5 L375.4,923.5 L375.7,926.6 L376.0,929.8 L376.2,932.8 L376.3,935.8 L376.3,938.8 L376.4,941.6 L376.4,944.4 L376.4,947.1 L376.4,949.8 L376.4,952.4 L376.4,955.0 L376.5,957.7" stroke="#b06858" stroke-width="1.5" fill="none"/>
<path d="M136.5,1029.7 L136.4,1022.4 L136.1,1014.8 L135.8,1007.1 L135.5,999.4 L135.2,991.8 L134.9,984.3 L134.7,977.0 L134.6,969.9 L134.6,963.2 L134.7,956.8 L135.0,950.9 L135.4,945.5 L136.1,940.5 L136.8,935.9 L137.7,931.5 L138.6,927.5 L139.7,923.7 L140.9,920.0 L142.1,916.6 L143.5,913.2 L144.9,909.8 L146.5,906.5 L148.1,903.1 L149.8,899.7 L151.6,896.6 L153.3,893.6 L155.2,890.7 L157.1,887.8 L159.2,885.1 L161.3,882.5 L163.5,879.9 L165.7,877.4 L168.1,874.9 L170.5,872.5 L173.0,870.2 L175.5,868.0 L178.1,865.8 L180.7,863.7 L183.4,861.7 L186.2,859.7 L189.0,857.8 L191.8,856.1 L194.7,854.4 L197.6,852.8 L200.6,851.4 L203.6,850.0 L206.6,848.8 L209.6,847.7 L212.6,846.8 L215.8,846.0 L219.1,845.2 L222.6,844.6 L226.1,844.0 L229.7,843.6 L233.4,843.2 L237.1,843.0 L240.9,842.7 L244.6,842.6 L248.3,842.5 L252.0,842.5 L255.6,842.5 L259.3,842.6 L262.9,842.7 L266.5,842.9 L270.1,843.2 L273.6,843.6 L277.0,844.0 L280.3,844.6 L283.4,845.2 L286.5,845.9 L289.3,846.7 L292.1,847.6 L294.7,848.7 L297.3,849.8 L300.0,851.2 L302.6,852.6 L305.2,854.2 L307.8,855.9 L310.3,857.7 L312.8,859.6 L315.2,861.5 L317.6,863.5 L319.8,865.5 L322.0,867.5 L324.0,869.5 L326.0,871.5 L327.8,873.6 L329.6,875.7 L331.3,877.8 L332.9,880.0 L334.5,882.3 L335.9,884.5 L337.2,886.8 L338.5,889.1 L339.6,891.4 L340.6,893.6 L341.5,895.8 L342.2,898.0 L342.9,900.5 L343.5,903.1 L344.0,905.8 L344.5,908.6 L344.9,911.5 L345.3,914.5 L345.6,917.5 L345.9,920.5 L346.3,923.6 L346.6,926.5 L346.9,929.2 L347.0,931.7 L347.2,934.2 L347.3,936.7 L347.3,939.3 L347.4,941.9 L347.4,944.5 L347.4,947.2 L347.4,949.9 L347.4,952.7 L347.4,955.5 L347.5,958.3" stroke="#b87262" stroke-width="1.5" fill="none"/>

</g>
<circle cx="229" cy="939.75" r="160.65" fill="none" stroke="#080808" stroke-width="3.9"/>

<!-- circle 4 -->
<g clip-path="url(#c4)">
<rect x="735" y="770" width="340" height="340" fill="#f5eced"/>
<rect x="735" y="1020" width="340" height="90" fill="#fbf1f1"/>
<!-- blurry pink strap top-left -->
<rect x="735" y="800" width="340" height="70" fill="#efe4e6" filter="url(#blur4)"/>
<path d="M760,852 C800,825 850,800 910,780" stroke="#f0b4ca" stroke-width="30" fill="none" filter="url(#blur4)"/>
<path d="M765,848 C790,830 815,818 840,806" stroke="#eea2bc" stroke-width="18" fill="none" filter="url(#blur4)"/>
<circle cx="860" cy="795" r="3.5" fill="#6a3a44" filter="url(#blur1)"/><circle cx="850" cy="797" r="3" fill="#f8f0f2" filter="url(#blur1)"/>
<!-- left fabric red -->
<path d="M740,872 L760,868 L760,1018 L740,1022 Z" fill="#e989a0"/>
<path d="M740,888 L760,886 L760,1012 L740,1014 Z" fill="#e0425a"/>
<circle cx="750" cy="918" r="3" fill="#4a0e18"/><circle cx="752" cy="932" r="2.8" fill="#4a0e18"/><circle cx="749" cy="985" r="2.5" fill="#4a0e18"/>
<!-- right fabric pink -->
<path d="M1043,875 L1075,870 L1075,1030 L1043,1025 Z" fill="#f4b8ce"/>
<circle cx="1055" cy="890" r="3" fill="#5a1a24"/><circle cx="1060" cy="945" r="2.5" fill="#5a1a24"/><circle cx="1052" cy="1000" r="3" fill="#5a1a24"/>
<rect x="1036" y="880" width="8" height="140" fill="#fbf3f3"/>
<!-- bar1 -->
<path d="M759,852 L776,848 L780,853 L780,1027 L761,1028 L759,1022 Z" fill="#fccbb6"/>
<rect x="761" y="856" width="5" height="166" fill="#fbdccf" filter="url(#blur1)"/>
<line x1="780.5" y1="852" x2="780.5" y2="1026" stroke="#c07868" stroke-width="1.6"/>
<!-- bar2 -->
<rect x="781" y="869" width="21" height="150" fill="#fac3ac"/>
<path d="M781,870 L801,870" stroke="#9a5046" stroke-width="1.5"/>
<!-- male body -->
<rect x="801" y="900" width="78" height="94" fill="#fdccb8"/>
<path d="M803,854 L872,852 L879,858 L879,903 L803,903 Z" fill="#fcc9b3"/>
<path d="M805,861 L876,861" stroke="#7a3a30" stroke-width="3"/>
<path d="M805,883 L878,883" stroke="#e3a894" stroke-width="1.2"/>
<path d="M801,898 L879,898" stroke="#a03e3e" stroke-width="4.5"/>
<path d="M803,992 L879,992 L879,1028 L810,1028 L803,1022 Z" fill="#fcc8b2"/>
<path d="M803,993 L879,993" stroke="#c67c6c" stroke-width="1.5"/>
<path d="M816,1005 L879,1005" stroke="#fde8de" stroke-width="2"/>
<path d="M816,1009 L879,1009" stroke="#b87060" stroke-width="1.2"/>
<circle cx="860" cy="949" r="12" fill="#f2bca6"/>
<circle cx="860" cy="949" r="12" fill="none" stroke="#9c5a4a" stroke-width="2"/>
<path d="M851,944 A10,10 0 0 1 868,943" stroke="#7a3a30" stroke-width="2.5" fill="none"/>
<path d="M852,952 A9,9 0 0 0 868,952" stroke="#fde2d6" stroke-width="2" fill="none"/>
<!-- female body -->
<path d="M879,850 L895,849 L897,858 C905,880 935,890 960,886 C975,882 980,870 980,858 L1040,855 L1042,870 L1040,1040 L980,1040 C978,1025 965,1020 940,1020 C915,1020 898,1028 895,1040 L879,1040 Z" fill="#fdcab4"/>
<path d="M900,864 C910,882 935,889 958,886 C972,883 978,874 978,864 Z" fill="#a8343e"/>
<path d="M897,864 C907,888 940,895 962,890 C978,886 983,875 982,862" stroke="#f9d6c6" stroke-width="4" fill="none"/>
<path d="M893,862 C903,892 940,902 965,897 C982,892 988,878 986,864" stroke="#d08a76" stroke-width="2" fill="none"/>
<line x1="980" y1="858" x2="1040" y2="856" stroke="#f9d3c2" stroke-width="3"/>
<line x1="879" y1="900" x2="1040" y2="896" stroke="#e8ad98" stroke-width="1" opacity="0.5"/>
<rect x="882" y="905" width="150" height="110" fill="#ffd2c0" opacity="0.5" filter="url(#blur4)"/>
<line x1="879" y1="850" x2="879" y2="1040" stroke="#c6806c" stroke-width="2"/>
<line x1="1040" y1="858" x2="1040" y2="1040" stroke="#d4917e" stroke-width="2"/>
</g>
<circle cx="904.85" cy="939.8" r="160.4" fill="none" stroke="#080808" stroke-width="3.9"/>

<!-- collar -->
<defs><clipPath id="band"><path d="M80,553 L571,553 L571,547 L640,546 L1128,541 L1128,619 L640,620 L571,622 L80,624 Z"/></clipPath></defs>
<g clip-path="url(#band)">
<rect x="78" y="535" width="1055" height="95" fill="#f4b3ce"/>
<!-- lower strip slight -->
<path d="M640,603 L1128,601 L1128,620 L640,622 Z" fill="#f1acc8"/>
<line x1="640" y1="604" x2="1128" y2="602" stroke="#f8d1e2" stroke-width="1.5"/>
<!-- light patches / ghosts -->
<g fill="#f9e9ec" filter="url(#blur1)">
<ellipse cx="172" cy="562" rx="12" ry="7"/>
<ellipse cx="172" cy="604" rx="15" ry="12"/>
<ellipse cx="234" cy="575" rx="8" ry="7"/>
<ellipse cx="280" cy="589" rx="11" ry="9"/>
<rect x="262" y="556" width="12" height="62"/>
<ellipse cx="390" cy="566" rx="10" ry="7"/>
<ellipse cx="390" cy="611" rx="14" ry="9"/>
<ellipse cx="486" cy="575" rx="19" ry="18" fill="#f8e6ea"/>
<ellipse cx="498" cy="588" rx="7" ry="6"/>
<ellipse cx="605" cy="563" rx="9" ry="10"/>
<ellipse cx="605" cy="598" rx="10" ry="12"/>
<ellipse cx="667" cy="566" rx="19" ry="18" fill="#f8e6ea"/>
<ellipse cx="680" cy="580" rx="7" ry="6"/>
<ellipse cx="791" cy="557" rx="8" ry="7"/>
<ellipse cx="790" cy="597" rx="12" ry="12"/>
<ellipse cx="887" cy="565" rx="21" ry="19" fill="#f8e6ea"/>
<ellipse cx="898" cy="580" rx="7" ry="6"/>
<ellipse cx="1000" cy="555" rx="14" ry="10"/>
<ellipse cx="1008" cy="596" rx="13" ry="12"/>
<ellipse cx="1102" cy="562" rx="17" ry="22" fill="#f3e3e8"/>
</g>
<!-- webs -->
<g stroke="#fbe3e8" stroke-width="1.2" fill="none" opacity="0.9">
<circle cx="162" cy="580" r="9"/><circle cx="430" cy="588" r="12"/><circle cx="820" cy="577" r="12"/><circle cx="1038" cy="575" r="13"/><circle cx="603" cy="581" r="12"/>
<circle cx="430" cy="588" r="6"/><circle cx="820" cy="577" r="6"/><circle cx="1038" cy="575" r="7"/><circle cx="603" cy="581" r="6"/>
<path d="M418,576 L442,600 M442,576 L418,600 M430,574 L430,602 M808,565 L832,589 M832,565 L808,589 M820,563 L820,591 M1025,562 L1051,588 M1051,562 L1025,588 M1038,560 L1038,590 M591,569 L615,593 M615,569 L591,593"/>
</g>
<!-- pumpkins -->
<g fill="#ec7f98" filter="url(#blur1)">
<ellipse cx="120" cy="583" rx="17" ry="21"/>
<ellipse cx="238" cy="608" rx="15" ry="11"/>
<ellipse cx="453" cy="609" rx="20" ry="12"/>
<ellipse cx="554" cy="582" rx="17" ry="22"/>
<ellipse cx="645" cy="596" rx="8" ry="11"/>
<ellipse cx="741" cy="574" rx="21" ry="20"/>
<ellipse cx="853" cy="597" rx="18" ry="12"/>
<ellipse cx="960" cy="572" rx="23" ry="22"/>
<ellipse cx="1075" cy="596" rx="21" ry="13"/>
</g>
<!-- stitches columns -->
<g stroke="#d8687a" stroke-width="1.5" stroke-dasharray="2,3">
<line x1="135" y1="556" x2="135" y2="622"/>
<line x1="202" y1="556" x2="202" y2="622"/>
<line x1="257" y1="556" x2="257" y2="622"/>
</g>
<!-- candy -->
<g fill="#f3d8dd"><ellipse cx="530" cy="566" rx="7" ry="6"/><ellipse cx="712" cy="558" rx="8" ry="6"/><ellipse cx="931" cy="557" rx="8" ry="6"/><ellipse cx="980" cy="598" rx="6" ry="5"/><ellipse cx="365" cy="612" rx="6" ry="5"/><ellipse cx="95" cy="566" rx="7" ry="5"/></g>
<!-- dark features -->
<g fill="#3a0f18">
<path d="M108,572 C118,566 130,570 135,580 L132,582 C126,575 118,572 110,576 Z"/><circle cx="115" cy="574" r="2.5"/>
<use href="#bat" transform="translate(108,595) rotate(-10) scale(0.8)"/>
<path d="M80,600 L88,606 L86,616 L80,618 Z"/>
<circle cx="168" cy="562" r="2"/><circle cx="176" cy="561" r="2"/>
<circle cx="166" cy="602" r="3"/><circle cx="175" cy="609" r="3"/><circle cx="178" cy="600" r="2"/>
<use href="#bat" transform="translate(238,567) rotate(50) scale(0.95)"/>
<circle cx="234" cy="576" r="2.5"/>
<path d="M227,604 C235,598 245,600 250,607 L246,608 C240,603 234,603 229,607 Z"/><path d="M232,612 L240,610 L244,618 L234,619 Z"/>
<circle cx="277" cy="590" r="2"/><circle cx="284" cy="588" r="2"/>
<path d="M290,558 C296,554 304,556 306,562 C300,560 295,563 296,569 C290,567 288,562 290,558 Z"/>
<use href="#bat" transform="translate(295,611) rotate(-15) scale(0.95)"/>
<circle cx="386" cy="565" r="2"/><circle cx="393" cy="565" r="2"/>
<circle cx="385" cy="609" r="3"/><circle cx="393" cy="615" r="3"/>
<use href="#bat" transform="translate(456,571) rotate(55) scale(1.2)"/>
<circle cx="447" cy="586" r="2.2"/>
<path d="M440,604 C448,598 460,598 468,605 L464,607 C456,602 449,602 443,607 Z"/><path d="M446,612 L456,614 L452,620 Z"/>
<path d="M506,556 C510,552 518,552 522,556 C515,557 512,562 514,569 C508,567 505,561 506,556 Z"/>
<circle cx="494" cy="586" r="1.8"/><circle cx="500" cy="584" r="1.8"/>
<use href="#bat" transform="translate(510,611) rotate(-15) scale(1.15)"/>
<path d="M540,572 C548,566 560,566 568,574 L564,576 C556,571 548,572 543,576 Z"/><circle cx="547" cy="581" r="2.2"/>
<path d="M542,592 L550,589 L556,596 L548,599 Z"/>
<use href="#bat" transform="translate(644,567) rotate(70) scale(0.9)"/>
<circle cx="674" cy="580" r="2"/><circle cx="681" cy="579" r="2"/>
<path d="M688,548 C693,544 700,544 704,548 C698,550 696,555 698,561 C691,559 687,553 688,548 Z"/>
<use href="#bat" transform="translate(692,604) rotate(-20) scale(1.1)"/>
<path d="M726,566 C736,560 750,562 757,572 L753,574 C745,567 736,566 729,570 Z"/><circle cx="730" cy="570" r="2.2"/><circle cx="752" cy="586" r="2.2"/>
<path d="M716,586 L724,583 L731,590 L728,597 L720,594 Z"/>
<circle cx="785" cy="556" r="1.8"/><circle cx="793" cy="554" r="1.8"/>
<circle cx="784" cy="596" r="3"/><circle cx="793" cy="601" r="3"/>
<use href="#bat" transform="translate(855,561) rotate(55) scale(1.25)"/>
<circle cx="845" cy="575" r="2.2"/>
<path d="M838,596 C846,590 858,591 866,599 L862,601 C855,595 847,595 841,600 Z"/><path d="M838,608 L848,606 L852,614 L840,614 Z"/>
<circle cx="894" cy="580" r="1.8"/><circle cx="900" cy="578" r="1.8"/>
<path d="M905,547 C910,543 917,543 921,547 C915,549 913,554 915,560 C908,558 904,552 905,547 Z"/>
<use href="#bat" transform="translate(911,604) rotate(-20) scale(1.15)"/>
<path d="M946,561 C956,555 970,557 977,567 L973,569 C965,562 956,561 949,565 Z"/><circle cx="949" cy="565" r="2.2"/><circle cx="967" cy="584" r="2.4"/>
<path d="M935,584 L943,582 L951,590 L946,595 L938,592 Z"/>
<circle cx="997" cy="552" r="1.8"/><circle cx="1004" cy="551" r="1.8"/>
<circle cx="1003" cy="593" r="3"/><circle cx="1012" cy="598" r="3"/>
<use href="#bat" transform="translate(1074,558) rotate(55) scale(1.25)"/>
<circle cx="1068" cy="571" r="2.2"/>
<path d="M1058,592 C1066,586 1078,586 1086,594 L1082,596 C1075,590 1067,590 1061,595 Z"/>
<use href="#bat" transform="translate(1103,607) rotate(-20) scale(0.95)"/>
<circle cx="1112" cy="579" r="1.8"/><circle cx="1117" cy="578" r="1.8"/>
<path d="M800,614 L812,608 L820,614 L808,619 Z"/><path d="M950,612 L964,606 L972,612 L960,618 Z"/><path d="M730,612 L745,606 L752,612 L740,618 Z"/><path d="M660,614 L670,608 L676,615 Z"/>
</g>
<!-- white eye dots -->
<g fill="#fff"><circle cx="447" cy="586" r="4" opacity="0.0"/></g>
</g>
<!-- label -->
<rect x="312" y="572.5" width="105.5" height="31" rx="1.5" fill="#86492f"/>
<rect x="315.5" y="576" width="98.5" height="24" fill="none" stroke="#3e1f12" stroke-width="1.6" stroke-dasharray="1.8,2.2"/>
<text x="323" y="592" font-family="Liberation Sans,sans-serif" font-size="11.5" fill="#2c160e">lionet</text>
<text x="378" y="592" font-family="Liberation Sans,sans-serif" font-size="11.5" fill="#2c160e">paws</text>
<circle cx="364.5" cy="587.5" r="6.5" fill="none" stroke="#2c160e" stroke-width="2"/>
<path d="M361,585 L368,585 M362,589 C363,592 366,592 367,589" stroke="#2c160e" stroke-width="1.3" fill="none"/>
<!-- left buckle -->
<path d="M5,548 L13,546 C17,551 22,555 30,555 C38,555 43,551 47,547 L111,547 L111,553 L86,553 L86,621 L111,621 L111,628 L50,629 C48,622 42,616 30,615.5 C18,615.5 10,621 7,630 L5,628 Z" fill="#c8837a"/>
<path d="M6,549 L13,547 C17,552 22,556 30,556 C38,556 43,552 47,548 L75,548 L75,565 L6,565 Z" fill="#c07a6e" opacity="0.6"/>
<rect x="6" y="590" width="40" height="24" fill="#d69a90" opacity="0.7" filter="url(#blur4)"/>
<path d="M47,548 L111,548 L111,552 L47,552 Z" fill="#e8b4a4"/>
<path d="M75,553 L86,553 L86,621 L75,621 Z" fill="#a25a4a"/>
<path d="M75,553 L86,553 L86,558 L75,558 Z" fill="#7a3a32"/>
<path d="M50,628 L75,608 L75,628 Z" fill="#925446" opacity="0.85"/>
<path d="M74,552 L74,622" stroke="#c07060" stroke-width="1.5"/>
<path d="M86,621 L111,621" stroke="#b06a5c" stroke-width="1.2"/>
<path d="M8,626 C12,620 20,617 30,617 C40,617 46,622 48,628" stroke="#e88868" stroke-width="2.5" fill="none"/>
<!-- D-ring -->
<path d="M163,552 C172,543 195,542 207,554 C217,565 219,579 218,590 C216,606 205,620 190,626 C180,630 168,629 161,623" stroke="#cf9a86" stroke-width="6" fill="none"/>
<path d="M166,549 C175,544 195,544 206,555 C215,565 217,579 216,590" stroke="#f2d6ca" stroke-width="2" fill="none"/>
<path d="M214,598 C210,610 202,619 190,624 C181,627 171,627 164,622" stroke="#e9c2b2" stroke-width="1.6" fill="none"/>
<path d="M168,555 C178,549 193,549 203,558 C211,567 213,580 212,590 C210,604 201,615 188,620" stroke="#9a5e50" stroke-width="1" fill="none" opacity="0.7"/>
<!-- slider frame -->
<rect x="577" y="542" width="56" height="75" fill="#f3b8cd"/>
<rect x="577" y="542" width="56" height="12" fill="#f0a6ba" filter="url(#blur1)"/>
<g stroke="#fbe6ea" stroke-width="1.1" fill="none"><circle cx="607" cy="580" r="15"/><circle cx="607" cy="580" r="9"/><circle cx="607" cy="580" r="4"/><path d="M590,563 L624,597 M624,563 L590,597 M607,560 L607,600 M587,580 L627,580"/></g>
<ellipse cx="588" cy="560" rx="8" ry="11" fill="#f8e8ec" filter="url(#blur1)"/>
<ellipse cx="590" cy="601" rx="8" ry="11" fill="#f8e8ec" filter="url(#blur1)"/>
<circle cx="586" cy="600" r="1.8" fill="#3a0f18"/><circle cx="589" cy="607" r="1.8" fill="#3a0f18"/><circle cx="591" cy="555" r="1.5" fill="#3a0f18"/><circle cx="586" cy="558" r="1.3" fill="#3a0f18"/>
<path fill-rule="evenodd" fill="#dda08a" d="M574,537 L636,537 Q639,537 639,540 L639,620 Q639,623 636,623 L574,623 Q571,623 571,620 L571,540 Q571,537 574,537 Z M577.5,543 L632,543 L632,616 L577.5,616 Z"/>
<path d="M573.5,540 L573.5,620" stroke="#f8d8ca" stroke-width="1.5"/>
<path d="M574,539 L636,539" stroke="#f2c8b8" stroke-width="1.2"/>
<path d="M636.5,541 L636.5,620" stroke="#f0c4b2" stroke-width="1.3"/>
<path d="M577.5,543 L632,543 L632,616 L577.5,616 Z" fill="none" stroke="#b27060" stroke-width="1"/>
<!-- right buckle frame -->
<path fill-rule="evenodd" fill="#b46a5e" d="M1088,540 L1130,539 L1130,619 L1088,619 Z M1088,542 L1118,542 L1118,608 L1088,608 Z"/>
<path d="M1089,608 L1122,608 L1122,618 L1089,618 Z" fill="#d56b6e"/>
<path d="M1119,545 L1127,545 L1127,615 L1119,615 Z" fill="#c87f72"/>
<path d="M1122,547 L1124,613" stroke="#f2c6b8" stroke-width="1.5"/>
<!-- right buckle body -->
<path d="M1131,541 L1148,540 L1175,546 L1182,552 L1185,560 L1185,615 L1178,622 L1140,623 L1131,620 Z" fill="#f4bea8"/>
<path d="M1139,544 L1173,547 L1174,560 L1139,560 Z" fill="#f7cbb8"/>
<path d="M1139,548 L1174,550" stroke="#c88470" stroke-width="1.2"/>
<path d="M1139,560 L1174,560" stroke="#c07868" stroke-width="1.3"/>
<path d="M1140,603 L1176,603 L1177,622 L1141,623 Z" fill="#f7cab6"/>
<path d="M1140,603 L1176,603" stroke="#9a5048" stroke-width="1.5"/>
<path d="M1141,613 L1176,612" stroke="#d09080" stroke-width="1"/>
<circle cx="1164.5" cy="580.5" r="5" fill="#f2b8a4" stroke="#4a2820" stroke-width="1.5"/>

<!-- texts -->
<text class="t" x="244.4" y="368.0" textLength="367.6" lengthAdjust="spacingAndGlyphs">Box X Reinforcement</text>
<text class="t" x="347.2" y="429.7" textLength="160.6" lengthAdjust="spacingAndGlyphs">Stitching</text>
<text class="t" x="807.4" y="444.7" textLength="359.0" lengthAdjust="spacingAndGlyphs">Premium Adjustable</text>
<text class="t" x="889.2" y="521.4" textLength="193.0" lengthAdjust="spacingAndGlyphs">Roll Buckle</text>
<text class="t" x="115.2" y="1150.8" textLength="228.2" lengthAdjust="spacingAndGlyphs">Metal D-ring</text>
<text class="t" x="719.0" y="1152.1" textLength="360.0" lengthAdjust="spacingAndGlyphs">Easy Snap-on Buckle</text>
</svg>
</body></html>
